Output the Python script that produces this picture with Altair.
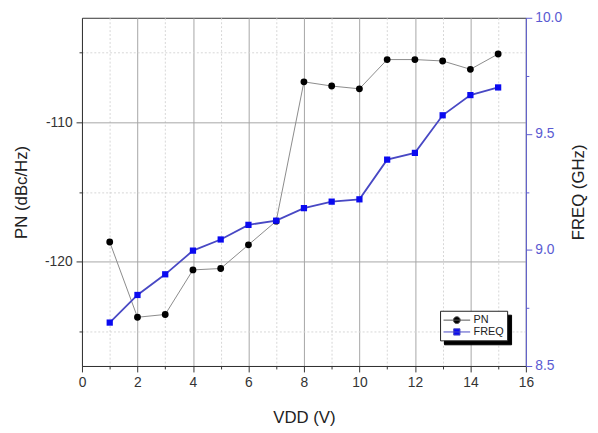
import altair as alt
import pandas as pd

# ---- data ----
vdd = list(range(1, 16))
pn = [-118.6, -124.0, -123.8, -120.6, -120.5, -118.8, -117.1,
      -107.1, -107.4, -107.6, -105.5, -105.5, -105.6, -106.2, -105.1]
freq = [8.687, 8.806, 8.895, 8.997, 9.045, 9.108, 9.126,
        9.180, 9.208, 9.218, 9.389, 9.418, 9.580, 9.667, 9.700]
series_names = ["PN", "FREQ"]

x_ticks = list(range(0, 17))
pn_ticks = [-125, -120, -115, -110, -105]
freq_ticks = [8.5, 8.75, 9.0, 9.25, 9.5, 9.75, 10.0]

FONT = "Liberation Sans"
PN_LINE = "#8a8a8a"
PN_PT = "#000000"
FR_LINE = "#4848c4"
FR_PT = "#0a0af0"
RIGHT = "#5a5ad2"

pn_df = pd.DataFrame({"vdd": vdd, "pn": pn})
fr_df = pd.DataFrame({"vdd": vdd, "freq": freq})
leg_df = pd.DataFrame({"series": series_names, "shadow": series_names})

# legend glyphs: a short line with the marker on it
circle_path = "M-1,0H3.5M0.67,0A0.58,0.58 0 1,0 1.83,0A0.58,0.58 0 1,0 0.67,0Z"
square_path = "M-1,0H3.5M0.72,-0.53H1.78V0.53H0.72Z"


def cond(test, a, b):
    return {"condition": {"test": test, "value": a}, "value": b}


x_enc = alt.X(
    "vdd:Q",
    scale=alt.Scale(domain=[0, 16], nice=False, zero=False),
    axis=alt.Axis(
        title="VDD (V)",
        values=x_ticks,
        labelExpr="datum.value % 2 === 0 ? '' + datum.value : ''",
        labelFlush=False,
        tickSize=cond("datum.value % 2 === 0", 6, 3),
        grid=True,
        gridColor=cond("datum.value % 2 === 0", "#a6a6a6", "#d6d6d6"),
        gridDash=cond("datum.value % 2 === 0", [], [2, 2]),
        labelPadding=4,
        titlePadding=20,
    ),
)

y_pn = alt.Y(
    "pn:Q",
    scale=alt.Scale(domain=[-127.5, -102.5], nice=False, zero=False),
    axis=alt.Axis(
        title="PN (dBc/Hz)",
        orient="left",
        values=pn_ticks,
        labelExpr="datum.value % 10 === 0 ? '' + datum.value : ''",
        labelFlush=False,
        tickSize=cond("datum.value % 10 === 0", 6, 3),
        grid=True,
        gridColor=cond("datum.value % 10 === 0", "#a6a6a6", "#d6d6d6"),
        gridDash=cond("datum.value % 10 === 0", [], [2, 2]),
        labelPadding=4,
        titlePadding=14,
    ),
)

y_fr = alt.Y(
    "freq:Q",
    scale=alt.Scale(domain=[8.5, 10.0], nice=False, zero=False),
    axis=alt.Axis(
        title="FREQ (GHz)",
        orient="right",
        values=freq_ticks,
        labelExpr="abs((datum.value * 4) % 2) < 0.01 ? format(datum.value, '.1f') : ''",
        labelFlush=False,
        tickSize=cond("abs((datum.value * 4) % 2) < 0.01", 6, 3),
        grid=False,
        domainColor=RIGHT,
        tickColor=RIGHT,
        labelColor=RIGHT,
        labelPadding=3,
        titleAngle=270,
        titleBaseline="top",
        titlePadding=9,
    ),
)

pn_line = alt.Chart(pn_df).mark_line(color=PN_LINE, strokeWidth=1).encode(x=x_enc, y=y_pn)
pn_pts = alt.Chart(pn_df).mark_point(filled=True, shape="circle", size=48, color=PN_PT, opacity=1).encode(x=x_enc, y=y_pn)

LEG_X, LEG_Y = 363, 297
LABEL_OFF = 18
FREQ_LABEL_W = 30.6  # width of the longest label at 11px
common = dict(
    orient="none", title=None, labelFont=FONT, labelFontSize=11,
    symbolSize=144, symbolStrokeWidth=1, padding=3, rowPadding=0,
)
main_leg = alt.Legend(
    legendX=LEG_X, legendY=LEG_Y, labelColor="#222", labelOffset=LABEL_OFF,
    fillColor="white", strokeColor="#222", zindex=2, **common,
)
shadow_leg = alt.Legend(
    legendX=LEG_X + 4, legendY=LEG_Y + 4, labelColor="black",
    labelExpr="''", labelOffset=LABEL_OFF + FREQ_LABEL_W,
    symbolType=square_path, symbolFillColor="black", symbolStrokeColor="black",
    fillColor="black", strokeColor="black", zindex=1, **common,
)

legend_layer = alt.Chart(leg_df).mark_point(size=0, filled=True, opacity=1).encode(
    x=x_enc,
    shape=alt.Shape("series:N", scale=alt.Scale(domain=series_names, range=[circle_path, square_path]), legend=main_leg),
    fill=alt.Fill("series:N", scale=alt.Scale(domain=series_names, range=[PN_PT, FR_PT]), legend=main_leg),
    stroke=alt.Stroke("series:N", scale=alt.Scale(domain=series_names, range=["#555555", FR_LINE]), legend=main_leg),
    strokeDash=alt.StrokeDash("shadow:N", scale=alt.Scale(range=[[1, 0], [1, 0]]), legend=shadow_leg),
).transform_calculate(vdd="8")

fr_line = alt.Chart(fr_df).mark_line(color=FR_LINE, strokeWidth=1.8).encode(x=x_enc, y=y_fr)
fr_pts = alt.Chart(fr_df).mark_point(filled=True, shape="square", size=40, color=FR_PT, opacity=1).encode(x=x_enc, y=y_fr)

left = alt.layer(pn_line, pn_pts, legend_layer)
right = alt.layer(fr_line, fr_pts)

chart = (
    alt.layer(left, right)
    .resolve_scale(y="independent")
    .properties(
        width=450,
        height=353,
        padding={"left": 75, "top": 7, "right": 65, "bottom": 65},
        autosize=alt.AutoSizeParams(type="none"),
    )
    .configure_view(stroke="#333333", strokeWidth=1)
    .configure_axis(
        labelFont=FONT, titleFont=FONT, labelFontSize=14, titleFontSize=17,
        titleFontWeight="normal", titleColor="#222222", labelColor="#333333",
        domainColor="#333333", tickColor="#333333",
    )
)

chart.save("out.html", embed_options={"renderer": "svg", "actions": False})
